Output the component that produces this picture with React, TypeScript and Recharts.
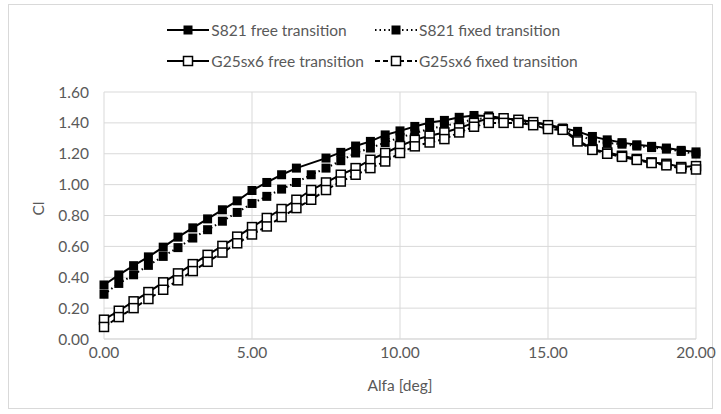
import React from 'react';
import { LineChart, Line, XAxis, YAxis, CartesianGrid } from 'recharts';

// Angle of attack [deg]
const alfa = [
  0, 0.5, 1, 1.5, 2, 2.5, 3, 3.5, 4, 4.5, 5, 5.5, 6, 6.5, 7, 7.5, 8, 8.5, 9, 9.5, 10,
  10.5, 11, 11.5, 12, 12.5, 13, 13.5, 14, 14.5, 15, 15.5, 16, 16.5, 17, 17.5, 18, 18.5, 19, 19.5, 20,
];

// Lift coefficient per airfoil / transition setting (null = not converged)
const s821Free = [
  0.35, 0.415, 0.475, 0.532, 0.595, 0.66, 0.72, 0.778, 0.837, 0.895, 0.962, 1.014, 1.064, 1.107, null, 1.172, 1.209, 1.25, 1.28, 1.322, 1.348,
  1.377, 1.403, 1.416, 1.436, 1.448, 1.445, 1.43, 1.42, 1.405, 1.388, 1.367, 1.345, 1.312, 1.29, 1.272, 1.258, 1.248, 1.237, 1.222, 1.212,
];
const s821Fixed = [
  0.29, 0.36, 0.416, 0.477, 0.535, 0.592, 0.654, 0.708, 0.763, 0.82, 0.878, 0.924, 0.971, 1.014, 1.064, 1.107, 1.155, 1.205, 1.237, 1.273, 1.305,
  1.334, 1.362, 1.381, 1.399, 1.425, 1.43, 1.425, 1.41, 1.395, 1.375, 1.36, 1.325, 1.285, 1.27, 1.262, 1.25, 1.24, 1.23, 1.215, 1.198,
];
const g25Free = [
  0.125, 0.183, 0.244, 0.304, 0.367, 0.425, 0.485, 0.545, 0.603, 0.663, 0.725, 0.784, 0.842, 0.902, 0.965, 1.014, 1.064, 1.107, 1.161, 1.205, 1.25,
  1.29, 1.317, 1.338, 1.367, 1.4, 1.43, 1.43, 1.42, 1.405, 1.385, 1.358, 1.29, 1.23, 1.209, 1.187, 1.166, 1.144, 1.135, 1.114, 1.12,
];
const g25Fixed = [
  0.078, 0.142, 0.2, 0.259, 0.319, 0.38, 0.44, 0.5, 0.56, 0.62, 0.677, 0.729, 0.79, 0.848, 0.902, 0.965, 1.02, 1.064, 1.107, 1.15, 1.205,
  1.248, 1.273, 1.295, 1.338, 1.375, 1.4, 1.4, 1.4, 1.385, 1.36, 1.355, 1.28, 1.225, 1.2, 1.18, 1.16, 1.14, 1.125, 1.105, 1.098,
];

const xTicks = [0, 5, 10, 15, 20];
const yTicks = [0, 0.2, 0.4, 0.6, 0.8, 1.0, 1.2, 1.4, 1.6];

const data = alfa.map((a, i) => ({
  alfa: a,
  s821Free: s821Free[i],
  s821Fixed: s821Fixed[i],
  g25Free: g25Free[i],
  g25Fixed: g25Fixed[i],
}));

type SeriesDef = {
  key: string;
  name: string;
  dash?: string;
  filled: boolean;
};

const series: SeriesDef[] = [
  { key: 's821Free', name: 'S821 free transition', filled: true },
  { key: 's821Fixed', name: 'S821 fixed transition', dash: '1.5 3', filled: true },
  { key: 'g25Free', name: 'G25sx6 free transition', filled: false },
  { key: 'g25Fixed', name: 'G25sx6 fixed transition', dash: '5 3', filled: false },
];

const FONT = 'Lato, "Open Sans", sans-serif';
const TEXT = '#595959';
const GRID = '#d9d9d9';
const FS = 15.5;

const squareDot = (filled: boolean) => (props: any) => {
  const { cx, cy, index } = props;
  if (cx == null || cy == null || props.value == null) return <g key={`d-${index}`} />;
  return (
    <rect
      key={`d-${index}`}
      x={cx - 4.5}
      y={cy - 4.5}
      width={9}
      height={9}
      fill={filled ? '#000' : '#fff'}
      stroke="#000"
      strokeWidth={filled ? 0 : 1.5}
    />
  );
};

const LegendIcon = ({ s }: { s: SeriesDef }) => (
  <svg width={42} height={12} style={{ display: 'block' }}>
    <line x1={0} y1={6} x2={42} y2={6} stroke="#000" strokeWidth={2} strokeDasharray={s.dash} />
    <rect
      x={16.5}
      y={1.5}
      width={9}
      height={9}
      fill={s.filled ? '#000' : '#fff'}
      stroke="#000"
      strokeWidth={s.filled ? 0 : 1.5}
    />
  </svg>
);

const LegendEntry = ({ s }: { s: SeriesDef }) => (
  <div style={{ display: 'flex', alignItems: 'center', gap: 2, height: 31 }}>
    <LegendIcon s={s} />
    <span>{s.name}</span>
  </div>
);

// Two legend columns: first column ends just before the second one starts
const ChartLegend = () => (
  <div style={{ fontFamily: FONT, fontSize: FS, color: TEXT, lineHeight: '18px', whiteSpace: 'nowrap' }}>
    <div style={{ position: 'absolute', right: 721 - 364, top: 14 }}>
      <LegendEntry s={series[0]} />
      <LegendEntry s={series[2]} />
    </div>
    <div style={{ position: 'absolute', left: 375, top: 14 }}>
      <LegendEntry s={series[1]} />
      <LegendEntry s={series[3]} />
    </div>
  </div>
);

export default function App() {
  return (
    <div style={{ position: 'absolute', left: 0, top: 0, width: 721, height: 414, background: '#fff' }}>
      <div
        style={{
          position: 'absolute',
          left: 8,
          top: 4,
          width: 705,
          height: 405,
          border: `1px solid ${GRID}`,
          boxSizing: 'border-box',
        }}
      />
      <div style={{ position: 'absolute', left: 0, top: 0 }}>
        <LineChart
          width={721}
          height={414}
          data={data}
          margin={{ top: 92, right: 25, bottom: 15, left: 0 }}
          style={{ fontFamily: FONT }}
        >
          <CartesianGrid stroke={GRID} strokeWidth={1} />
          <XAxis
            dataKey="alfa"
            type="number"
            domain={[0, 20]}
            ticks={xTicks}
            interval={0}
            tickFormatter={(v: number) => v.toFixed(2)}
            axisLine={{ stroke: GRID }}
            tickLine={false}
            tick={{ fill: TEXT, fontSize: FS }}
            tickMargin={2}
            height={60}
            label={{ value: 'Alfa [deg]', position: 'insideBottom', offset: 8, fill: TEXT, fontSize: FS }}
          />
          <YAxis
            type="number"
            domain={[0, 1.6]}
            ticks={yTicks}
            interval={0}
            tickFormatter={(v: number) => v.toFixed(2)}
            axisLine={false}
            tickLine={false}
            tick={{ fill: TEXT, fontSize: FS }}
            tickMargin={9}
            width={104}
            label={{ value: 'Cl', angle: -90, position: 'insideLeft', offset: 38, fill: TEXT, fontSize: FS }}
          />
          {series.map((s) => (
            <Line
              key={s.key}
              dataKey={s.key}
              name={s.name}
              stroke="#000"
              strokeWidth={2}
              strokeDasharray={s.dash}
              dot={squareDot(s.filled)}
              activeDot={false}
              connectNulls
              isAnimationActive={false}
            />
          ))}
        </LineChart>
      </div>
      <ChartLegend />
    </div>
  );
}
